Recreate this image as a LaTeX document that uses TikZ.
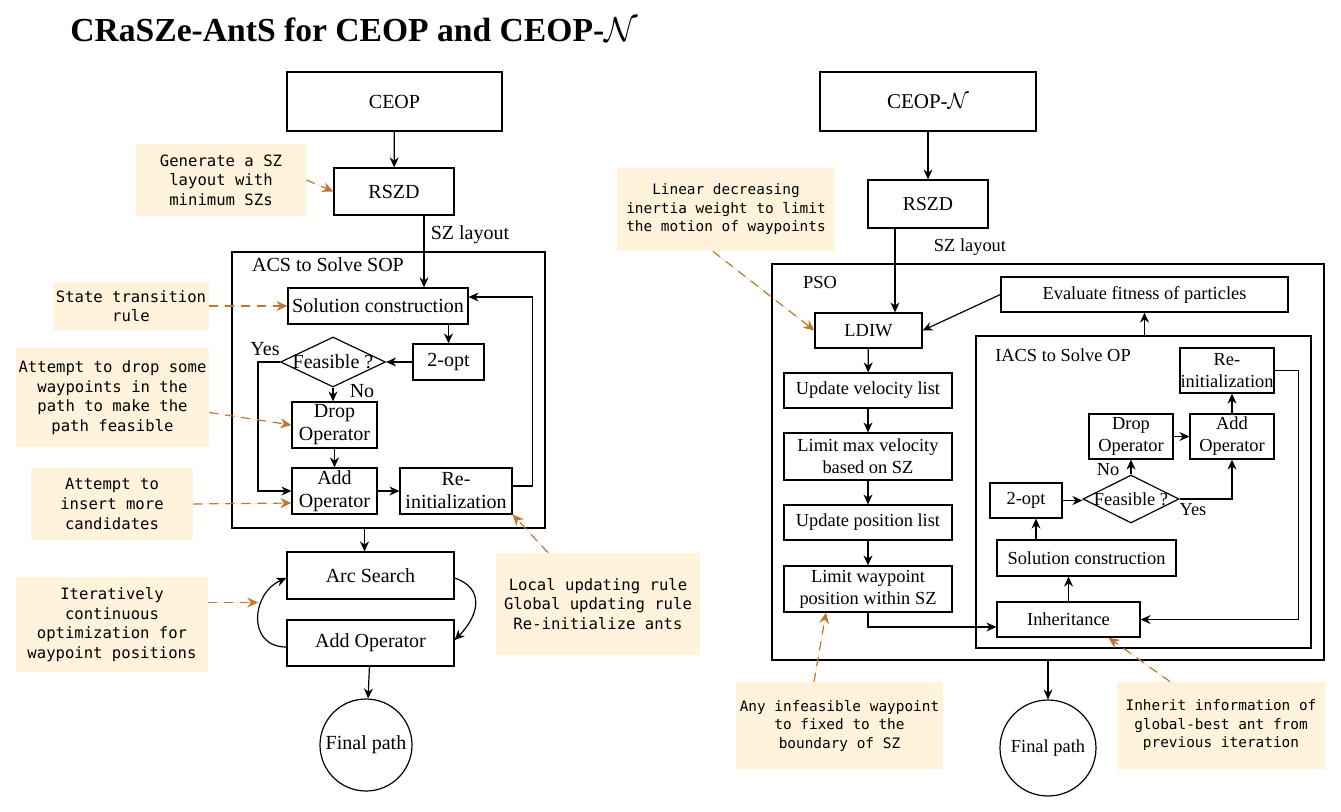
\documentclass[tikz,border=0pt]{standalone}
\usepackage{fontspec}
\setmainfont{Liberation Serif}
\newfontfamily\notefont{DejaVu Sans Mono}
\usetikzlibrary{arrows.meta,shapes.geometric}
\definecolor{notefill}{RGB}{255,243,220}
\definecolor{hintcol}{RGB}{192,120,48}
\tikzstyle{block}=[draw,line width=0.6pt,align=center,inner sep=1pt]
\tikzstyle{frame}=[draw,line width=0.6pt]
\tikzstyle{decision}=[diamond,draw,line width=0.6pt,inner sep=0pt]
\tikzstyle{note}=[fill=notefill,align=center,inner sep=0pt,font=\notefont\fontsize{7.8}{9.8}\selectfont]
\tikzstyle{flow}=[-{Stealth[length=5pt,width=4.5pt]},line width=0.6pt]
\tikzstyle{hint}=[-{Stealth[length=5.5pt,width=5pt]},draw=hintcol,fill=hintcol,line width=0.6pt,dash pattern=on 4.5pt off 3.5pt]
\newcommand{\flowblock}[6][block]{% Syntax: [style] {name}{x,y}{width}{height}{text}, all in pixels
  \node[#1,minimum width=#4*0.5pt,minimum height=#5*0.5pt] (#2) at (#3) {#6};}

\begin{document}
\begin{tikzpicture}[x=0.5pt,y=-0.5pt,font=\fontsize{10}{11.5}\selectfont]
\useasboundingbox (0,0) rectangle (1341,811);
\node[anchor=base west,inner sep=0pt,font=\fontsize{16.8}{20}\selectfont\bfseries] (title) at (70,41) {CRaSZe-AntS for CEOP and CEOP-$\mathcal{N}$};

% CEOP side
\begin{scope}
	\flowblock{ceop}{394.5,101.5}{215}{59}{CEOP}
	\flowblock{rszd}{394,191.5}{120}{47}{RSZD}
	\node (layoutA) at (470,235) {SZ layout};
	\flowblock[frame]{acs}{388.5,390}{313}{276}{}
	\node (acslab) at (328,265) {ACS to Solve SOP};
	\flowblock{sol}{378,306}{180}{36}{Solution construction}
	\flowblock{twoopt}{448.5,362}{71}{36}{2-opt}
	\flowblock[decision,label=center:{Feasible ?}]{feas}{333,362}{105}{50}{}
	\node (yesA) at (265,349) {Yes};
	\node (noA) at (362,391) {No};
	\flowblock{dropA}{334.5,425}{85}{46}{Drop\\Operator}
	\flowblock{addA}{334.5,491}{85}{46}{Add\\Operator}
	\flowblock{reinitA}{456,491}{112}{46}{Re-\\initialization}
	\flowblock{arc}{370.5,575.5}{167}{47}{Arc Search}
	\flowblock{addB}{370.5,643}{167}{46}{Add Operator}
	\flowblock[block,circle]{finalA}{366,745}{92}{92}{Final path}
	% notes
	\flowblock[note]{noteGen}{221,180}{170}{72}{Generate a SZ\\layout with\\minimum SZs}
	\flowblock[note]{noteState}{131,306}{156}{48}{State transition\\rule}
	\flowblock[note]{noteDrop}{112.5,397.5}{193}{99}{Attempt to drop some\\waypoints in the\\path to make the\\path feasible}
	\flowblock[note]{noteIns}{112,504}{162}{72}{Attempt to\\insert more\\candidates}
	\flowblock[note]{noteIter}{112,624.5}{192}{95}{Iteratively\\continuous\\optimization for\\waypoint positions}
	\flowblock[note]{noteLocal}{598,604}{204}{102}{Local updating rule\\Global updating rule\\Re-initialize ants}

	\draw[flow] (ceop) -- (rszd);
	\draw[flow] ([xshift=15pt]rszd.south) -- ([xshift=15pt]rszd.south |- sol.north);
	\draw[flow] (sol.south -| twoopt) -- (twoopt.north);
	\draw[flow] (twoopt) -- (feas);
	\draw[flow] (feas.west) -- ++(-11pt,0) |- (addA.west); % yes
	\draw[flow] (feas.south) -- (feas.south |- dropA.north); % no
	\draw[flow] (dropA) -- (addA);
	\draw[flow] (addA) -- (reinitA);
	\draw[flow] ([yshift=2.5pt]reinitA.east) -- ++(10pt,0) |- ([yshift=4.5pt]sol.east);
	\draw[flow] ([xshift=-3pt]arc.north |- acs.south) -- ([xshift=-3pt]arc.north);
	\draw[flow] ([yshift=-2pt]addB.west) .. controls +(-40,0) and +(-35,15) .. ([yshift=-1.25pt]arc.west) coordinate[pos=0.5] (loopL);
	\draw[flow] ([yshift=-1.25pt]arc.east) .. controls +(30,10) and +(25,-25) .. ([yshift=1.5pt]addB.east);
	\draw[flow] (addB) -- (finalA);

	\draw[hint] (noteGen.east) -- (rszd.west);
	\draw[hint] (noteState.east) -- (sol.west);
	\draw[hint] ([yshift=-7.5pt]noteDrop.east) -- (dropA.west);
	\draw[hint] (noteIns.east) -- ([yshift=-6pt]addA.west);
	\draw[hint] ([yshift=11pt]noteIter.east) -- ([yshift=11pt]noteIter.east -| loopL);
	\draw[hint] ([xshift=-25pt]noteLocal.north) -- (reinitA.south east);
\end{scope}

% CEOP-N side
\begin{scope}[font=\fontsize{9.2}{11}\selectfont,note/.append style={font=\notefont\fontsize{7.2}{9.25}\selectfont}]
	\flowblock[block,font=\fontsize{10.5}{12}\selectfont]{ceopN}{928,101.5}{216}{59}{CEOP-$\mathcal{N}$}
	\flowblock[block,font=\fontsize{9.8}{11.5}\selectfont]{rszdN}{928,204}{120}{48}{RSZD}
	\node (layoutB) at (970,247) {SZ layout};
	\flowblock[frame]{pso}{1048,462}{552}{396}{}
	\node (psolab) at (820,282) {PSO};
	\flowblock[frame]{iacs}{1143.5,492}{335}{312}{}
	\node (iacslab) at (1063,355) {IACS to Solve OP};
	\flowblock{eval}{1144.5,294.5}{287}{35}{Evaluate fitness of particles}
	\flowblock{ldiw}{868.5,330.5}{107}{35}{LDIW}
	\flowblock{velo}{868,390.5}{168}{35}{Update velocity list}
	\flowblock{limv}{868,456.5}{168}{47}{Limit max velocity\\based on SZ}
	\flowblock{posi}{868,522.5}{168}{35}{Update position list}
	\flowblock{limw}{868,589}{168}{46}{Limit waypoint\\position within SZ}
	\flowblock[block,inner xsep=0pt]{reinitN}{1227,370.5}{94}{45}{Re-\\initialization}
	\flowblock{dropN}{1131,436.5}{84}{45}{Drop\\Operator}
	\flowblock{addN}{1232,436.5}{84}{45}{Add\\Operator}
	\flowblock{twoN}{1026,500.5}{72}{35}{2-opt}
	\flowblock[decision,label=center:{Feasible ?}]{feasN}{1131,499}{96}{48}{}
	\node (noB) at (1108,470) {No};
	\node (yesB) at (1193,510) {Yes};
	\flowblock{solN}{1086.5,558}{179}{36}{Solution construction}
	\flowblock{inh}{1068.5,619.5}{143}{35}{Inheritance}
	\flowblock[block,circle]{finalB}{1048,748}{96}{96}{Final path}
	% notes
	\flowblock[note]{noteLin}{726,209.5}{218}{83}{Linear decreasing\\inertia weight to limit\\the motion of waypoints}
	\flowblock[note]{noteAny}{839.5,725.5}{207}{87}{Any infeasible waypoint\\to fixed to the\\boundary of SZ}
	\flowblock[note]{noteInh}{1221,725.5}{208}{87}{Inherit information of\\global-best ant from\\previous iteration}

	\draw[flow] (ceopN) -- (rszdN);
	\draw[flow] ([xshift=-16.5pt]rszdN.south) -- ([xshift=-16.5pt]rszdN.south |- ldiw.north);
	\draw[flow] (eval.west) -- (ldiw.east);
	\draw[flow] (ldiw) -- (velo);
	\draw[flow] (velo) -- (limv);
	\draw[flow] (limv) -- (posi);
	\draw[flow] (posi) -- (limw);
	\draw[flow] (limw.south) |- ([yshift=-3.75pt]inh.west);
	\draw[flow] (eval.south |- iacs.north) -- (eval.south);
	\draw[flow] (inh.north) -- (inh.north |- solN.south);
	\draw[flow] ([xshift=5pt]twoN.south |- solN.north) -- ([xshift=5pt]twoN.south);
	\draw[flow] (twoN.east) -- (twoN.east -| feasN.west);
	\draw[flow] (feasN.north) -- (feasN.north |- dropN.south); % no
	\draw[flow] (feasN.east) -| (addN.south); % yes
	\draw[flow] (dropN) -- (addN);
	\draw[flow] (addN.north) -- (addN.north |- reinitN.south);
	\draw[flow] (reinitN.east) -- ++(12pt,0) |- (inh.east);
	\draw[flow] (pso.south) -- (finalB.north);

	\draw[hint] ([xshift=-6.5pt]noteLin.south) -- (ldiw.west);
	\draw[hint] ([xshift=-12.75pt]noteAny.north) -- ([xshift=-21pt]limw.south);
	\draw[hint] ([xshift=-25.5pt]noteInh.north) -- ([xshift=20pt]inh.south);
\end{scope}
\end{tikzpicture}
\end{document}
